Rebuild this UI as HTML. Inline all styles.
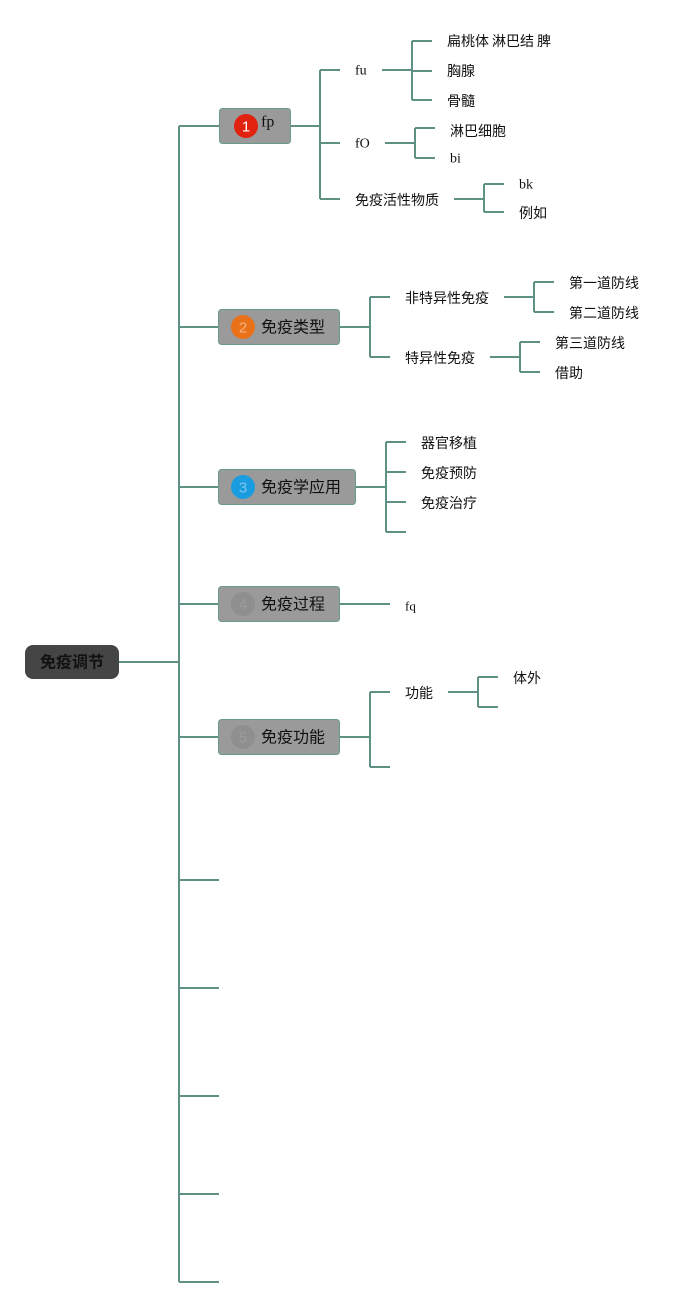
<!DOCTYPE html>
<html><head><meta charset="utf-8"><style>
html,body{margin:0;padding:0;background:#fff;}
svg{display:block;}
.l{stroke:#5e9184;stroke-width:2;fill:none;}
.t{font-family:"Liberation Sans","Noto Sans CJK SC",sans-serif;font-size:14px;fill:#111;}
.s{font-family:"Liberation Serif","Noto Serif CJK SC",serif;font-size:14px;fill:#111;}
.b{font-family:"Liberation Sans","Noto Sans CJK SC",sans-serif;font-size:16px;fill:#111;}
.box{fill:#9a9a9a;stroke:#6a9a8c;stroke-width:1;}
.n{font-family:"Liberation Sans",sans-serif;font-size:15px;text-anchor:middle;}
</style></head><body>
<svg width="699" height="1308" viewBox="0 0 699 1308" xmlns="http://www.w3.org/2000/svg">
<!-- trunk -->
<path class="l" d="M119 662H179 M179 126V1282 M179 126H219 M179 327H219 M179 487H219 M179 604H219 M179 737H219 M179 880H219 M179 988H219 M179 1096H219 M179 1194H219 M179 1282H219"/>

<!-- root -->
<rect x="25" y="645" width="94" height="34" rx="8" fill="#454545"/>
<text x="72" y="663" class="b" font-weight="bold" text-anchor="middle" dominant-baseline="central" fill="#1a1a1a">免疫调节</text>

<!-- box 1 -->
<path class="l" d="M290 126H320 M320 70V199 M320 70H340 M320 143H340 M320 199H340"/>
<path class="l" d="M382 70H412 M412 41V100 M412 41H432 M412 71H432 M412 100H432"/>
<path class="l" d="M385 143H415 M415 128V158 M415 128H435 M415 158H435"/>
<path class="l" d="M454 199H484 M484 184V212 M484 184H504 M484 212H504"/>
<rect class="box" x="219.5" y="108.5" width="71" height="35" rx="3"/>
<circle cx="246" cy="126" r="12" fill="#e0220f"/>
<text x="246" y="127" class="n" dominant-baseline="central" fill="#fff">1</text>
<text x="261" y="122" class="s" style="font-size:16px" dominant-baseline="central">fp</text>
<text x="355" y="71" class="s" dominant-baseline="central">fu</text>
<text x="447" y="41" class="t" dominant-baseline="central">扁桃体</text>
<text x="492" y="41" class="t" dominant-baseline="central">淋巴结</text>
<text x="537" y="41" class="t" dominant-baseline="central">脾</text>
<text x="447" y="71" class="t" dominant-baseline="central">胸腺</text>
<text x="447" y="101" class="t" dominant-baseline="central">骨髓</text>
<text x="355" y="144" class="s" dominant-baseline="central">fO</text>
<text x="450" y="131" class="t" dominant-baseline="central">淋巴细胞</text>
<text x="450" y="159" class="s" dominant-baseline="central">bi</text>
<text x="355" y="200" class="t" dominant-baseline="central">免疫活性物质</text>
<text x="519" y="185" class="s" dominant-baseline="central">bk</text>
<text x="519" y="213" class="t" dominant-baseline="central">例如</text>

<!-- box 2 -->
<path class="l" d="M340 327H370 M370 297V357 M370 297H390 M370 357H390"/>
<path class="l" d="M504 297H534 M534 282V312 M534 282H554 M534 312H554"/>
<path class="l" d="M490 357H520 M520 342V372 M520 342H540 M520 372H540"/>
<rect class="box" x="218.5" y="309.5" width="121" height="35" rx="3"/>
<circle cx="243" cy="327" r="12" fill="#e8711a"/>
<text x="243" y="328" class="n" dominant-baseline="central" fill="#f4b27e">2</text>
<text x="261" y="328" class="b" dominant-baseline="central">免疫类型</text>
<text x="405" y="298" class="t" dominant-baseline="central">非特异性免疫</text>
<text x="405" y="358" class="t" dominant-baseline="central">特异性免疫</text>
<text x="569" y="283" class="t" dominant-baseline="central">第一道防线</text>
<text x="569" y="313" class="t" dominant-baseline="central">第二道防线</text>
<text x="555" y="343" class="t" dominant-baseline="central">第三道防线</text>
<text x="555" y="373" class="t" dominant-baseline="central">借助</text>

<!-- box 3 -->
<path class="l" d="M356 487H386 M386 442V532 M386 442H406 M386 472H406 M386 502H406 M386 532H406"/>
<rect class="box" x="218.5" y="469.5" width="137" height="35" rx="3"/>
<circle cx="243" cy="487" r="12" fill="#1a9de0"/>
<text x="243" y="488" class="n" dominant-baseline="central" fill="#7cc6ee">3</text>
<text x="261" y="488" class="b" dominant-baseline="central">免疫学应用</text>
<text x="421" y="443" class="t" dominant-baseline="central">器官移植</text>
<text x="421" y="473" class="t" dominant-baseline="central">免疫预防</text>
<text x="421" y="503" class="t" dominant-baseline="central">免疫治疗</text>

<!-- box 4 -->
<path class="l" d="M340 604H390"/>
<rect class="box" x="218.5" y="586.5" width="121" height="35" rx="3"/>
<circle cx="243" cy="604" r="12" fill="#8f8f8f"/>
<text x="243" y="605" class="n" dominant-baseline="central" fill="#9c9c9c">4</text>
<text x="261" y="605" class="b" dominant-baseline="central">免疫过程</text>
<text x="405" y="606" class="s" style="font-size:13px" dominant-baseline="central">fq</text>

<!-- box 5 -->
<path class="l" d="M340 737H370 M370 692V767 M370 692H390 M370 767H390"/>
<path class="l" d="M448 692H478 M478 677V707 M478 677H498 M478 707H498"/>
<rect class="box" x="218.5" y="719.5" width="121" height="35" rx="3"/>
<circle cx="243" cy="737" r="12" fill="#8f8f8f"/>
<text x="243" y="738" class="n" dominant-baseline="central" fill="#9c9c9c">5</text>
<text x="261" y="738" class="b" dominant-baseline="central">免疫功能</text>
<text x="405" y="693" class="t" dominant-baseline="central">功能</text>
<text x="513" y="678" class="t" dominant-baseline="central">体外</text>
</svg>
</body></html>
